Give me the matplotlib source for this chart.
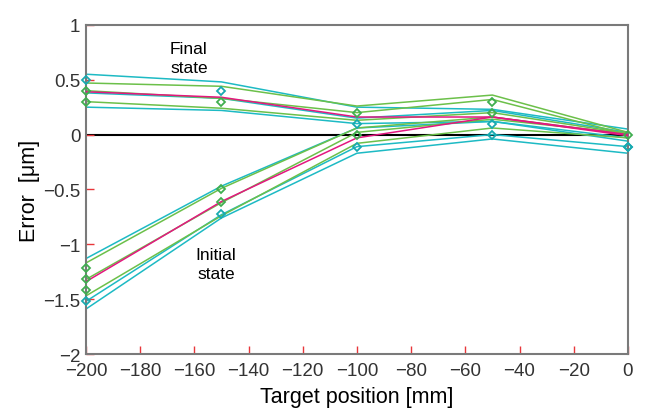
import matplotlib
matplotlib.use("Agg")
import matplotlib.pyplot as plt

plt.rcParams["font.family"] = ["Liberation Sans", "DejaVu Sans"]

# target positions [mm]
positions = [-200, -150, -100, -50, 0]

# final state runs (error in um)
final_cyan = [
    [0.55, 0.48, 0.25, 0.23, 0.05],
    [0.38, 0.33, 0.15, 0.22, 0.02],
    [0.25, 0.22, 0.10, 0.12, -0.06],
]
final_green = [
    [0.47, 0.44, 0.26, 0.36, 0.02],
    [0.40, 0.33, 0.20, 0.32, 0.00],
    [0.30, 0.24, 0.13, 0.20, 0.01],
]
final_magenta = [0.39, 0.34, 0.16, 0.16, 0.00]

# initial state runs
initial_cyan = [
    [-1.13, -0.47, 0.06, 0.12, -0.03],
    [-1.52, -0.73, -0.11, 0.00, -0.11],
    [-1.59, -0.76, -0.17, -0.04, -0.17],
]
initial_green = [
    [-1.17, -0.49, 0.06, 0.16, 0.00],
    [-1.32, -0.62, 0.02, 0.14, 0.01],
    [-1.47, -0.74, -0.08, 0.06, -0.03],
]
initial_magenta = [-1.34, -0.61, -0.03, 0.16, -0.01]

# diamond markers
green_dx = [-200, -200, -150, -100, -50, -50, 0, -200, -200, -200, -150, -150, -100]
green_dy = [0.40, 0.30, 0.30, 0.20, 0.30, 0.20, 0.0, -1.22, -1.32, -1.42, -0.50, -0.61, 0.0]
cyan_dx = [-200, -150, -100, -50, 0, -200, -150, -100, -50, 0]
cyan_dy = [0.50, 0.40, 0.10, 0.10, -0.11, -1.52, -0.72, -0.11, 0.0, -0.11]

xticks = list(range(-200, 1, 20))
yticks = [-2, -1.5, -1, -0.5, 0, 0.5, 1]
ytick_labels = ["\u22122", "\u22121.5", "\u22121", "\u22120.5", "0", "0.5", "1"]

c_cyan = "#1dbac4"
c_green = "#6cc04a"
c_magenta = "#e3177f"

fig = plt.figure(figsize=(6.46, 4.10), dpi=100)
ax = fig.add_axes([0.133, 0.134, 0.839, 0.803])

ax.axhline(0, color="black", lw=1.5, zorder=1)

for run in final_cyan + initial_cyan:
    ax.plot(positions, run, color=c_cyan, lw=1.1, zorder=2)
for run in final_green + initial_green:
    ax.plot(positions, run, color=c_green, lw=1.1, zorder=2)
ax.plot(positions, final_magenta, color=c_magenta, lw=1.1, zorder=3)
ax.plot(positions, initial_magenta, color=c_magenta, lw=1.1, zorder=3)

ax.plot(green_dx, green_dy, ls="none", marker="D", ms=4, mfc="none",
        mec="#3fae4f", mew=1.3, zorder=4, clip_on=False)
ax.plot(cyan_dx, cyan_dy, ls="none", marker="D", ms=4, mfc="none",
        mec="#17aab0", mew=1.3, zorder=4, clip_on=False)

ax.text(-162, 0.70, "Final\nstate", ha="center", va="center", fontsize=12.5,
        linespacing=1.3)
ax.text(-152, -1.18, "Initial\nstate", ha="center", va="center", fontsize=12.5,
        linespacing=1.3)

ax.set_xlim(-200, 0)
ax.set_ylim(-2, 1)
ax.set_xticks(xticks)
ax.set_yticks(yticks)
ax.set_yticklabels(ytick_labels)
ax.tick_params(direction="in", color="#e8363a", length=6, width=1,
               labelsize=13.5, labelcolor="#333333")
ax.tick_params(axis="x", pad=6)
ax.tick_params(axis="y", pad=4)

for sp in ax.spines.values():
    sp.set_color("#7a7a7a")
    sp.set_linewidth(1.5)

ax.set_xlabel("Target position [mm]", fontsize=15.5, labelpad=5)
ax.set_ylabel("Error  [\u03bcm]", fontsize=15.5, labelpad=2)

fig.savefig("out.png", dpi=100)
